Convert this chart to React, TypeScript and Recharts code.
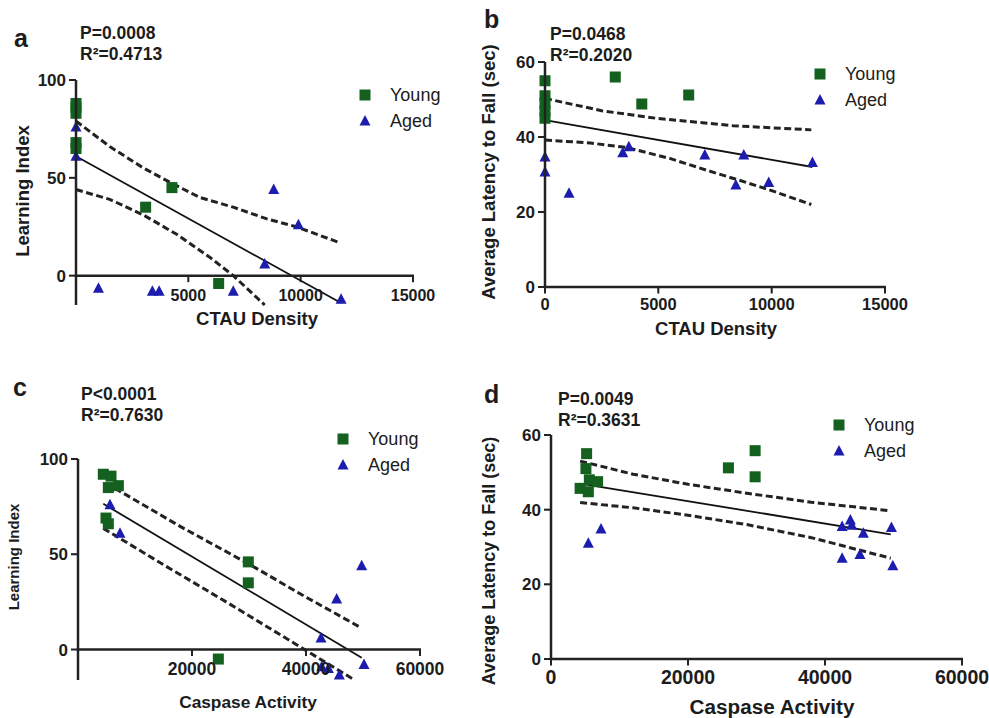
import React from "react";
import { ScatterChart, Scatter, XAxis, YAxis, Legend } from "recharts";

type Pt = { x: number; y: number };

// a: CTAU density vs learning index
const aYoung: Pt[] = [
  { x: 0, y: 88 }, { x: 0, y: 86 }, { x: 0, y: 83 }, { x: 0, y: 68 }, { x: 0, y: 65 },
  { x: 3100, y: 35 }, { x: 4270, y: 45 }, { x: 6350, y: -4 },
];
const aAged: Pt[] = [
  { x: 0, y: 76 }, { x: 0, y: 61 }, { x: 1000, y: -6.5 }, { x: 3400, y: -8 }, { x: 3700, y: -8 },
  { x: 7000, y: -8 }, { x: 8400, y: 6 }, { x: 8800, y: 44 }, { x: 9900, y: 26 }, { x: 11800, y: -12 },
];
const aFit: Pt[] = [{ x: 0, y: 61 }, { x: 11800, y: -14 }];
const aUpper: Pt[] = [
  { x: 0, y: 79 }, { x: 1500, y: 66 }, { x: 3000, y: 55 }, { x: 4300, y: 47 }, { x: 5500, y: 40 },
  { x: 7000, y: 35 }, { x: 8500, y: 29 }, { x: 9800, y: 25 }, { x: 11700, y: 17 },
];
const aLower: Pt[] = [
  { x: 0, y: 44 }, { x: 1500, y: 39 }, { x: 3000, y: 31 }, { x: 4500, y: 21 },
  { x: 6000, y: 9 }, { x: 7000, y: 0 }, { x: 8400, y: -15 },
];

// b: CTAU density vs latency
const bYoung: Pt[] = [
  { x: 0, y: 55 }, { x: 0, y: 51 }, { x: 0, y: 49 }, { x: 0, y: 47 }, { x: 0, y: 45 },
  { x: 3100, y: 56 }, { x: 4270, y: 48.8 }, { x: 6340, y: 51.2 },
];
const bAged: Pt[] = [
  { x: 0, y: 34.7 }, { x: 0, y: 30.7 }, { x: 1060, y: 25 }, { x: 3430, y: 35.8 }, { x: 3700, y: 37.4 },
  { x: 7050, y: 35.2 }, { x: 8420, y: 27.2 }, { x: 8770, y: 35.2 }, { x: 9870, y: 27.9 }, { x: 11800, y: 33.2 },
];
const bFit: Pt[] = [{ x: 0, y: 44.5 }, { x: 11800, y: 32 }];
const bUpper: Pt[] = [
  { x: 0, y: 50.3 }, { x: 2500, y: 47 }, { x: 4900, y: 45 }, { x: 8300, y: 43 }, { x: 11750, y: 41.9 },
];
const bLower: Pt[] = [
  { x: 0, y: 39.2 }, { x: 2000, y: 38.4 }, { x: 3600, y: 37.2 }, { x: 5500, y: 34.3 },
  { x: 7100, y: 31.2 }, { x: 8500, y: 28.6 }, { x: 9900, y: 25.9 }, { x: 11750, y: 22 },
];

// c: caspase activity vs learning index
const cYoung: Pt[] = [
  { x: 4440, y: 92 }, { x: 5790, y: 91 }, { x: 7080, y: 86 }, { x: 5320, y: 85 },
  { x: 4910, y: 69 }, { x: 5320, y: 66 }, { x: 29880, y: 46 }, { x: 29880, y: 35 }, { x: 24620, y: -5 },
];
const cAged: Pt[] = [
  { x: 5610, y: 76 }, { x: 7370, y: 61 }, { x: 49770, y: 44 }, { x: 45380, y: 26.5 }, { x: 42630, y: 6 },
  { x: 50180, y: -7.8 }, { x: 42750, y: -9 }, { x: 43920, y: -9.9 }, { x: 45850, y: -13.4 },
];
const cFit: Pt[] = [{ x: 4440, y: 76.5 }, { x: 49770, y: -4.3 }];
const cUpper: Pt[] = [
  { x: 6490, y: 84.6 }, { x: 18000, y: 64.5 }, { x: 29900, y: 45 }, { x: 40000, y: 27.5 }, { x: 49500, y: 11.7 },
];
const cLower: Pt[] = [
  { x: 4440, y: 63.6 }, { x: 15000, y: 44.5 }, { x: 26000, y: 25 }, { x: 37000, y: 5 }, { x: 48300, y: -15.6 },
];

// d: caspase activity vs latency
const dYoung: Pt[] = [
  { x: 5200, y: 55 }, { x: 5100, y: 51 }, { x: 4250, y: 45.7 }, { x: 5600, y: 48 }, { x: 6800, y: 47.5 },
  { x: 5450, y: 44.8 }, { x: 25900, y: 51.2 }, { x: 29800, y: 55.8 }, { x: 29800, y: 48.8 },
];
const dAged: Pt[] = [
  { x: 5450, y: 31 }, { x: 7300, y: 34.8 }, { x: 42500, y: 35.5 }, { x: 43700, y: 37.2 }, { x: 43900, y: 35.8 },
  { x: 45600, y: 33.7 }, { x: 42500, y: 27 }, { x: 45100, y: 28 }, { x: 49700, y: 35.2 }, { x: 49900, y: 25 },
];
const dFit: Pt[] = [{ x: 4250, y: 47 }, { x: 49600, y: 33.4 }];
const dUpper: Pt[] = [
  { x: 4250, y: 53 }, { x: 12000, y: 49.5 }, { x: 20000, y: 46.8 }, { x: 28600, y: 44.4 }, { x: 38000, y: 42 }, { x: 49600, y: 39.7 },
];
const dLower: Pt[] = [
  { x: 4250, y: 41.9 }, { x: 12000, y: 40.5 }, { x: 20000, y: 38.5 }, { x: 28600, y: 36 }, { x: 38000, y: 32.5 }, { x: 49600, y: 27 },
];

const ctauTicks = [0, 5000, 10000, 15000];
const caspaseTicks = [0, 20000, 40000, 60000];
const learningTicks = [0, 50, 100];
const latencyTicks = [0, 20, 40, 60];

const letters = ["a", "b", "c", "d"];
const pTexts = ["P=0.0008", "P=0.0468", "P<0.0001", "P=0.0049"];
const r2Texts = ["R\u00b2=0.4713", "R\u00b2=0.2020", "R\u00b2=0.7630", "R\u00b2=0.3631"];

const FONT = "'Liberation Sans', Arial, Helvetica, sans-serif";

type Panel = {
  left: number; top: number; width: number;
  marginTop: number; yAxisWidth: number; plotWidth: number; plotHeight: number;
  xDomain: [number, number]; xTicks: number[]; xFont: number; xLabelGap: number;
  yDomain: [number, number]; yTicks: number[];
  young: Pt[]; aged: Pt[]; fit: Pt[]; upper: Pt[]; lower: Pt[];
  legendLeft: number; legendTop: number;
};

const panels: Panel[] = [
  { left: 0, top: 0, width: 460, marginTop: 80, yAxisWidth: 76, plotWidth: 337, plotHeight: 225,
    xDomain: [0, 15000], xTicks: ctauTicks.slice(1), xFont: 16, xLabelGap: 14,
    yDomain: [-15, 100], yTicks: learningTicks,
    young: aYoung, aged: aAged, fit: aFit, upper: aUpper, lower: aLower, legendLeft: 359, legendTop: 87 },
  { left: 470, top: 0, width: 519, marginTop: 62, yAxisWidth: 75, plotWidth: 340, plotHeight: 225,
    xDomain: [0, 15000], xTicks: ctauTicks, xFont: 16.5, xLabelGap: 11,
    yDomain: [0, 60], yTicks: latencyTicks,
    young: bYoung, aged: bAged, fit: bFit, upper: bUpper, lower: bLower, legendLeft: 344, legendTop: 66 },
  { left: 0, top: 370, width: 470, marginTop: 89, yAxisWidth: 78, plotWidth: 342, plotHeight: 221,
    xDomain: [0, 60000], xTicks: caspaseTicks.slice(1), xFont: 17.5, xLabelGap: 13,
    yDomain: [-16, 100], yTicks: learningTicks,
    young: cYoung, aged: cAged, fit: cFit, upper: cUpper, lower: cLower, legendLeft: 337, legendTop: 61 },
  { left: 475, top: 370, width: 514, marginTop: 65, yAxisWidth: 76, plotWidth: 411, plotHeight: 224,
    xDomain: [0, 60000], xTicks: caspaseTicks, xFont: 19.5, xLabelGap: 11,
    yDomain: [0, 60], yTicks: latencyTicks,
    young: dYoung, aged: dAged, fit: dFit, upper: dUpper, lower: dLower, legendLeft: 358, legendTop: 47 },
];

const zeroOffset = (p: Panel) => p.marginTop + (p.plotHeight * p.yDomain[1]) / (p.yDomain[1] - p.yDomain[0]);

const SquareDot = (props: any) => (
  <rect x={props.cx - 5.5} y={props.cy - 5.5} width={11} height={11} fill="#13601f" />
);
const TriDot = (props: any) => {
  const { cx, cy } = props;
  return <path d={`M${cx},${cy - 6}L${cx + 5.5},${cy + 4.5}L${cx - 5.5},${cy + 4.5}Z`} fill="#1c1cae" />;
};
const NoDot = () => <g />;

const LegendBox = () => (
  <svg width={100} height={46} style={{ display: "block", overflow: "visible" }}>
    <rect x={0.5} y={2.5} width={11} height={11} fill="#13601f" />
    <text x={31} y={14} fontSize={18} fontFamily={FONT} fill="#1c1c1c">Young</text>
    <path d="M6,28L11.5,38.5L0.5,38.5Z" fill="#1c1cae" />
    <text x={31} y={40} fontSize={18} fontFamily={FONT} fill="#1c1c1c">Aged</text>
  </svg>
);

const ChartPanel = ({ p }: { p: Panel }) => {
  const xAxisHeight = 30;
  const height = p.marginTop + p.plotHeight + xAxisHeight;
  const zeroY = zeroOffset(p);
  const axisX = p.yAxisWidth;
  const zeroAtBottom = p.yDomain[0] === 0;
  const renderXTick = (props: any) => (
    <text x={props.x} y={zeroY + p.xLabelGap} dy="0.72em" textAnchor="middle" fontSize={p.xFont}
      fontWeight={700} fill="#1c1c1c" fontFamily={FONT}>
      {props.payload.value}
    </text>
  );
  const renderYTick = (props: any) => (
    <text x={axisX - 10} y={props.y} dy="0.36em" textAnchor="end" fontSize={17}
      fontWeight={700} fill="#1c1c1c" fontFamily={FONT}>
      {props.payload.value}
    </text>
  );
  const dashed = { stroke: "#222", strokeWidth: 3, strokeDasharray: "7 3.5" };
  return (
    <div style={{ position: "absolute", left: p.left, top: p.top }}>
      <ScatterChart width={p.width} height={height}
        margin={{ top: p.marginTop, right: p.width - p.yAxisWidth - p.plotWidth, bottom: 0, left: 0 }}>
        <XAxis type="number" dataKey="x" domain={p.xDomain} ticks={p.xTicks} interval={0}
          height={xAxisHeight} stroke="#222" axisLine={zeroAtBottom} tickLine={zeroAtBottom}
          tickSize={6} tickMargin={0} tick={renderXTick} />
        <YAxis type="number" dataKey="y" domain={p.yDomain} ticks={p.yTicks} interval={0}
          width={p.yAxisWidth} stroke="#222" tickSize={7} tickMargin={3} tick={renderYTick} />
        <Scatter data={p.upper} line={dashed} shape={NoDot} legendType="none" isAnimationActive={false} />
        <Scatter data={p.lower} line={dashed} shape={NoDot} legendType="none" isAnimationActive={false} />
        <Scatter data={p.fit} line={{ stroke: "#111", strokeWidth: 1.8 }} shape={NoDot} legendType="none" isAnimationActive={false} />
        <Scatter name="Young" data={p.young} shape={SquareDot} isAnimationActive={false} />
        <Scatter name="Aged" data={p.aged} shape={TriDot} isAnimationActive={false} />
        <Legend layout="vertical" align="center" verticalAlign="middle"
          wrapperStyle={{ left: p.legendLeft, top: p.legendTop, width: 100 }}
          content={() => <LegendBox />} />
      </ScatterChart>
    </div>
  );
};

// axis frame for one panel, same geometry as the chart's plot area
const Frame = ({ p }: { p: Panel }) => {
  const left = p.left + p.yAxisWidth;
  const top = p.top + p.marginTop;
  const zero = p.top + zeroOffset(p);
  const xPix = (v: number) => left + ((v - p.xDomain[0]) / (p.xDomain[1] - p.xDomain[0])) * p.plotWidth;
  const yPix = (v: number) => top + ((p.yDomain[1] - v) / (p.yDomain[1] - p.yDomain[0])) * p.plotHeight;
  return (
    <>
      <path d={`M${left},${top}V${top + p.plotHeight}`} stroke="#222222" strokeWidth={2.5} fill="none" />
      <path d={`M${left - 1.25},${zero}H${left + p.plotWidth + 1}`} stroke="#222222" strokeWidth={2.5} fill="none" />
      {p.xTicks.map((v) => (
        <path key={`x${v}`} d={`M${xPix(v)},${zero}V${zero + 6.5}`} stroke="#222222" strokeWidth={2} fill="none" />
      ))}
      {p.yTicks.map((v) => (
        <path key={`y${v}`} d={`M${left - 7},${yPix(v)}H${left}`} stroke="#222222" strokeWidth={2} fill="none" />
      ))}
    </>
  );
};

const T = (props: { x: number; y: number; size: number; children: React.ReactNode }) => (
  <text x={props.x} y={props.y} fontSize={props.size} fontWeight={700} fill="#1c1c1c" fontFamily={FONT}>
    {props.children}
  </text>
);
const Title = (props: { x: number; y: number; size: number; vertical?: boolean; children: React.ReactNode }) => (
  <text transform={`translate(${props.x},${props.y})${props.vertical ? " rotate(-90)" : ""}`}
    textAnchor="middle" fontSize={props.size} fontWeight={700} fill="#1c1c1c" fontFamily={FONT}>
    {props.children}
  </text>
);

export default function App() {
  return (
    <div style={{ position: "absolute", left: 0, top: 0, width: 989, height: 718, background: "#fff" }}>
      {panels.map((p, i) => <ChartPanel key={i} p={p} />)}
      <svg width={989} height={718} style={{ position: "absolute", left: 0, top: 0 }}>
        {panels.map((p, i) => <Frame key={i} p={p} />)}
        <T x={14} y={47} size={25}>{letters[0]}</T>
        <T x={484} y={28} size={25}>{letters[1]}</T>
        <T x={13} y={396} size={25}>{letters[2]}</T>
        <T x={484} y={403} size={25}>{letters[3]}</T>

        <T x={80} y={39} size={17.5}>{pTexts[0]}</T>
        <T x={80} y={60} size={17.5}>{r2Texts[0]}</T>
        <T x={550} y={40} size={17.5}>{pTexts[1]}</T>
        <T x={550} y={61} size={17.5}>{r2Texts[1]}</T>
        <T x={81} y={400} size={17.5}>{pTexts[2]}</T>
        <T x={81} y={421} size={17.5}>{r2Texts[2]}</T>
        <T x={558} y={405} size={17.5}>{pTexts[3]}</T>
        <T x={558} y={426} size={17.5}>{r2Texts[3]}</T>

        <Title x={29} y={191} size={18.5} vertical>Learning Index</Title>
        <Title x={257} y={325} size={18.5}>CTAU Density</Title>
        <Title x={495} y={172} size={18.5} vertical>Average Latency to Fall (sec)</Title>
        <Title x={716} y={335} size={18.5}>CTAU Density</Title>
        <Title x={19} y={557} size={15} vertical>Learning Index</Title>
        <Title x={248} y={708} size={17.3}>Caspase Activity</Title>
        <Title x={495} y={561} size={18} vertical>Average Latency to Fall (sec)</Title>
        <Title x={772} y={714} size={20.7}>Caspase Activity</Title>
      </svg>
    </div>
  );
}
